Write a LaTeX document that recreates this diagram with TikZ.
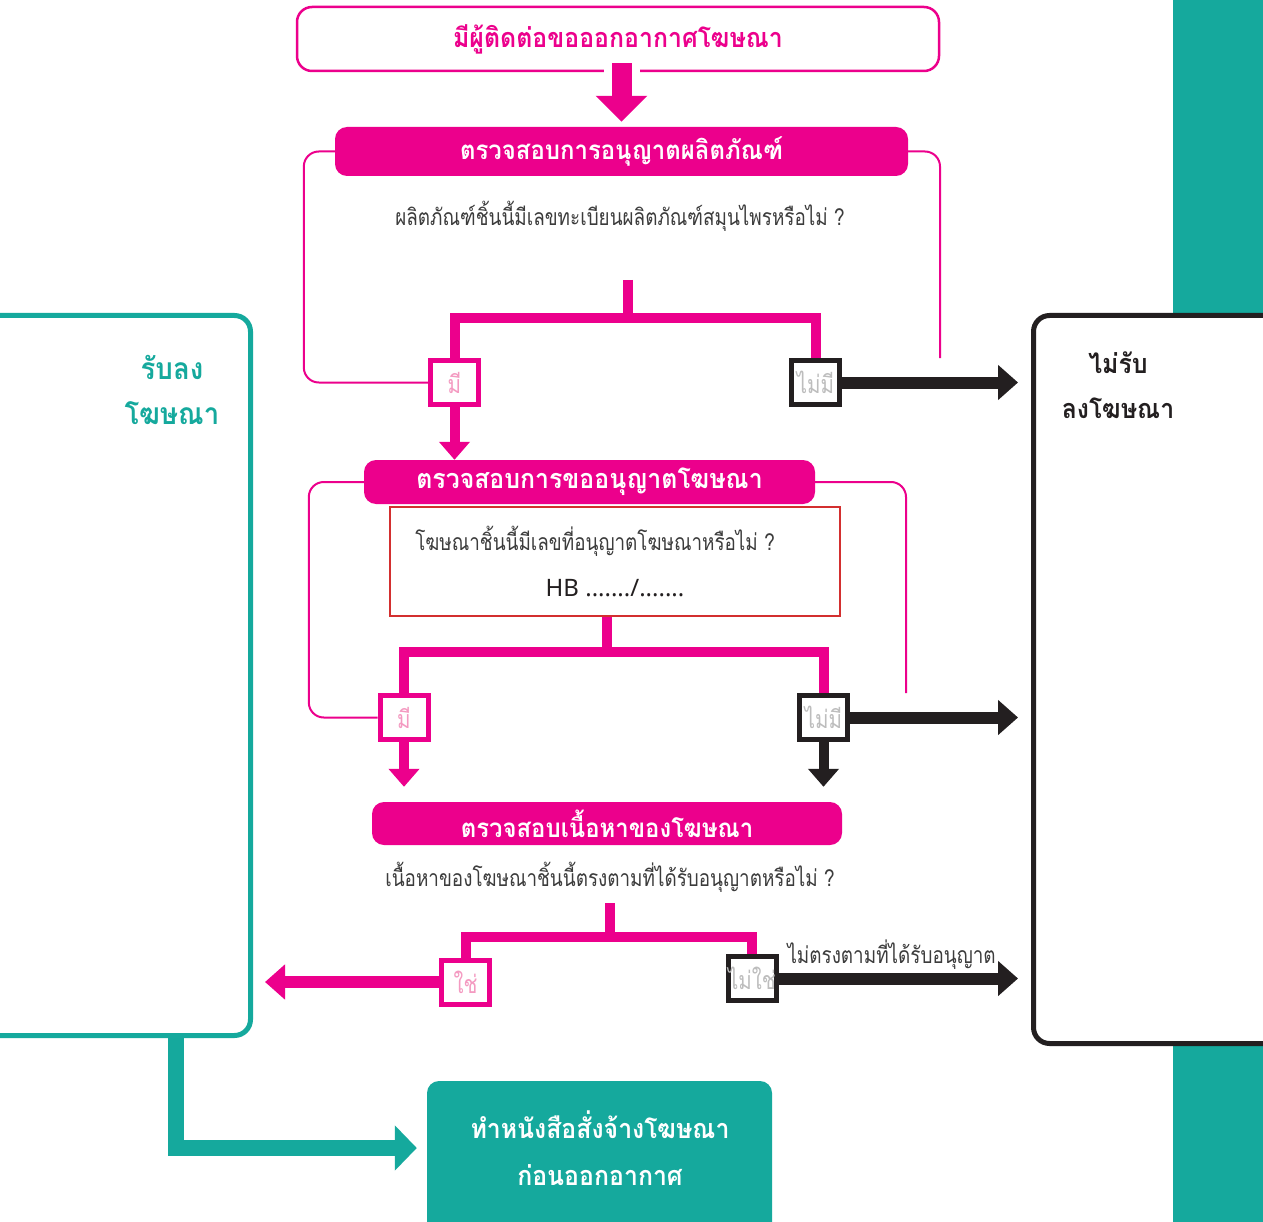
\documentclass[tikz,border=0pt]{standalone}
\usepackage{fontspec}
\newfontfamily\thaifont[Script=Thai,FakeStretch=0.82]{Loma}
\newfontfamily\thaihead[Script=Thai,FakeStretch=0.92]{Loma}
\newfontfamily\latinfont{Noto Sans}
\usetikzlibrary{arrows.meta}

\definecolor{adpink}{HTML}{EC008C}
\definecolor{adteal}{HTML}{15A99D}
\definecolor{adblack}{HTML}{231F20}
\definecolor{adred}{HTML}{D32F2F}
\definecolor{adsoftpink}{HTML}{F49AC1}
\definecolor{adgrey}{HTML}{BDBDBD}
\definecolor{adtext}{HTML}{3C3C3C}

\tikzset{
  topbox/.style={draw=adpink, line width=2.5, rounded corners=15, fill=white,
    minimum width=642, minimum height=64, inner sep=0pt, text=adpink,
    font=\thaihead\bfseries\fontsize{27}{30}\selectfont},
  header/.style={fill=adpink, rounded corners=12, inner sep=0pt, text=white,
    font=\thaihead\bfseries\fontsize{26}{28}\selectfont},
  question/.style={text=adtext, font=\thaifont\fontsize{23}{26}\selectfont},
  yesbox/.style={draw=adpink, line width=5, fill=white, minimum width=48,
    minimum height=44, inner sep=0pt, text=adsoftpink,
    font=\thaifont\fontsize{25}{26}\selectfont},
  nobox/.style={yesbox, draw=adblack, text=adgrey},
  bigbox/.style={line width=5, rounded corners=16, fill=white, inner sep=0pt},
  boxlabel/.style={align=center, font=\thaihead\bfseries\fontsize{27}{45}\selectfont},
  loopline/.style={draw=adpink, line width=2, rounded corners=15},
  branch/.style={draw=adpink, line width=10},
  toparrow/.style={draw=adpink, line width=20, -{Triangle[width=50pt,length=26pt]}},
  pinkarrow/.style={draw=adpink, line width=10, -{Triangle[width=30pt,length=18pt]}},
  pinkside/.style={draw=adpink, line width=12, -{Triangle[width=34pt,length=20pt]}},
  blackarrow/.style={draw=adblack, line width=12, -{Triangle[width=34pt,length=20pt]}},
  blackdown/.style={draw=adblack, line width=10, -{Triangle[width=30pt,length=18pt]}},
  tealarrow/.style={draw=adteal, line width=16, -{Triangle[width=44pt,length=22pt]}}
}

\begin{document}
\begin{tikzpicture}[x=1pt, y=-1pt]
  \clip (0,0) rectangle (1263,1222);
  \fill[white] (0,0) rectangle (1263,1222);

  % side band and outcome boxes
  \fill[adteal] (1173,0) rectangle (1263,1222);
  \node[bigbox, draw=adteal, minimum width=268, minimum height=720] (accept) at (116.5,675.5) {};
  \node[bigbox, draw=adblack, minimum width=254, minimum height=728] (reject) at (1160.5,679.5) {};
  \node[boxlabel, text=adteal, font=\thaihead\bfseries\fontsize{30}{45}\selectfont] (acceptlbl) at (172,390) {รับลง\\โฆษณา};
  \node[boxlabel, text=adblack] (rejectlbl) at (1118,385) {ไม่รับ\\ลงโฆษณา};

  % step 1
  \node[topbox] (contact) at (618,39) {มีผู้ติดต่อขอออกอากาศโฆษณา};
  \node[header, minimum width=573, minimum height=49] (chk1) at (621.5,151.5) {ตรวจสอบการอนุญาตผลิตภัณฑ์};
  \draw[white, line width=36] (contact.south -| chk1.north) ++(0,-5) -- ++(0,10);
  \draw[toparrow, shorten >=5] (contact.south -| chk1.north) ++(0,-9) -- (chk1.north);
  \node[question] (q1) at (620,216) {ผลิตภัณฑ์ชิ้นนี้มีเลขทะเบียนผลิตภัณฑ์สมุนไพรหรือไม่ ?};
  \node[yesbox] (yes1) at (454.5,382.5) {มี};
  \node[nobox] (no1) at (815.5,382.5) {ไม่มี};
  \coordinate (fork1) at (628,280);
  \coordinate (split1) at (628,318);
  \coordinate (r1) at (940,358);
  \draw[loopline] (chk1.west) -- ++(-31,0) |- (yes1.west);
  \draw[loopline] (chk1.east) -| (r1);
  \draw[branch] (fork1) -- (split1);
  \draw[branch] (yes1.north) |- (split1) -| (no1.north);
  \draw[blackarrow, shorten >=13] (no1.east) -- (no1.east -| reject.west);

  % step 2
  \node[header, minimum width=451, minimum height=44, font=\thaihead\bfseries\fontsize{27}{28}\selectfont] (chk2) at (589.5,482) {ตรวจสอบการขออนุญาตโฆษณา};
  \draw[pinkarrow] (yes1.south) -- (yes1.south |- chk2.north);
  \node[draw=adred, line width=2, minimum width=450, minimum height=109, align=center,
    question] (q2) at (615,561.5) {\hspace*{-40pt}โฆษณาชิ้นนี้มีเลขที่อนุญาตโฆษณาหรือไม่ ?\\[20pt]{\latinfont\fontsize{24}{26}\selectfont\color{adblack}HB ......./.......}};
  \node[yesbox] (yes2) at (404,717.5) {มี};
  \node[nobox] (no2) at (823.5,717.5) {ไม่มี};
  \coordinate (fork2) at (607,617);
  \coordinate (split2) at (607,652);
  \coordinate (r2) at (906,693);
  \draw[loopline] (chk2.west) -- ++(-55,0) |- (yes2.west);
  \draw[loopline] (chk2.east) -| (r2);
  \draw[branch] (fork2) -- (split2);
  \draw[branch] (yes2.north) |- (split2) -| (no2.north);
  \draw[blackarrow, shorten >=13] (no2.east) -- (no2.east -| reject.west);

  % step 3
  \node[header, minimum width=470, minimum height=43] (chk3) at (607,823.5) {ตรวจสอบเนื้อหาของโฆษณา};
  \draw[pinkarrow, shorten >=15] (yes2.south) -- (yes2.south |- chk3.north);
  \draw[blackdown, shorten >=15] (no2.south) -- (no2.south |- chk3.north);
  \node[question] (q3) at (610,877) {เนื้อหาของโฆษณาชิ้นนี้ตรงตามที่ได้รับอนุญาตหรือไม่ ?};
  \node[yesbox] (yes3) at (465.5,982) {ใช่};
  \node[nobox] (no3) at (752,978.5) {ไม่ใช่};
  \coordinate (fork3) at (610,903);
  \coordinate (split3) at (610,937);
  \draw[branch] (fork3) -- (split3);
  \draw[branch] (yes3.north) |- (split3) -| (no3.north);
  \draw[pinkside, shorten >=12] (yes3.west) -- (yes3.west -| accept.east);
  \draw[blackarrow, shorten >=13] (no3.east) -- (no3.east -| reject.west)
    node[pos=0, anchor=south west, inner sep=3pt, question] (mismatch) {ไม่ตรงตามที่ได้รับอนุญาต};

  % final step
  \node[fill=adteal, rounded corners=12, minimum width=345, minimum height=160] (done) at (599.5,1161) {};
  \node[boxlabel, text=white, font=\thaihead\bfseries\fontsize{27}{47}\selectfont] (donelbl) at (600,1148) {ทำหนังสือสั่งจ้างโฆษณา\\ก่อนออกอากาศ};
  \draw[tealarrow, shorten >=10] ([xshift=4pt]accept.south -| acceptlbl) |- (done.west |- donelbl);
\end{tikzpicture}
\end{document}
